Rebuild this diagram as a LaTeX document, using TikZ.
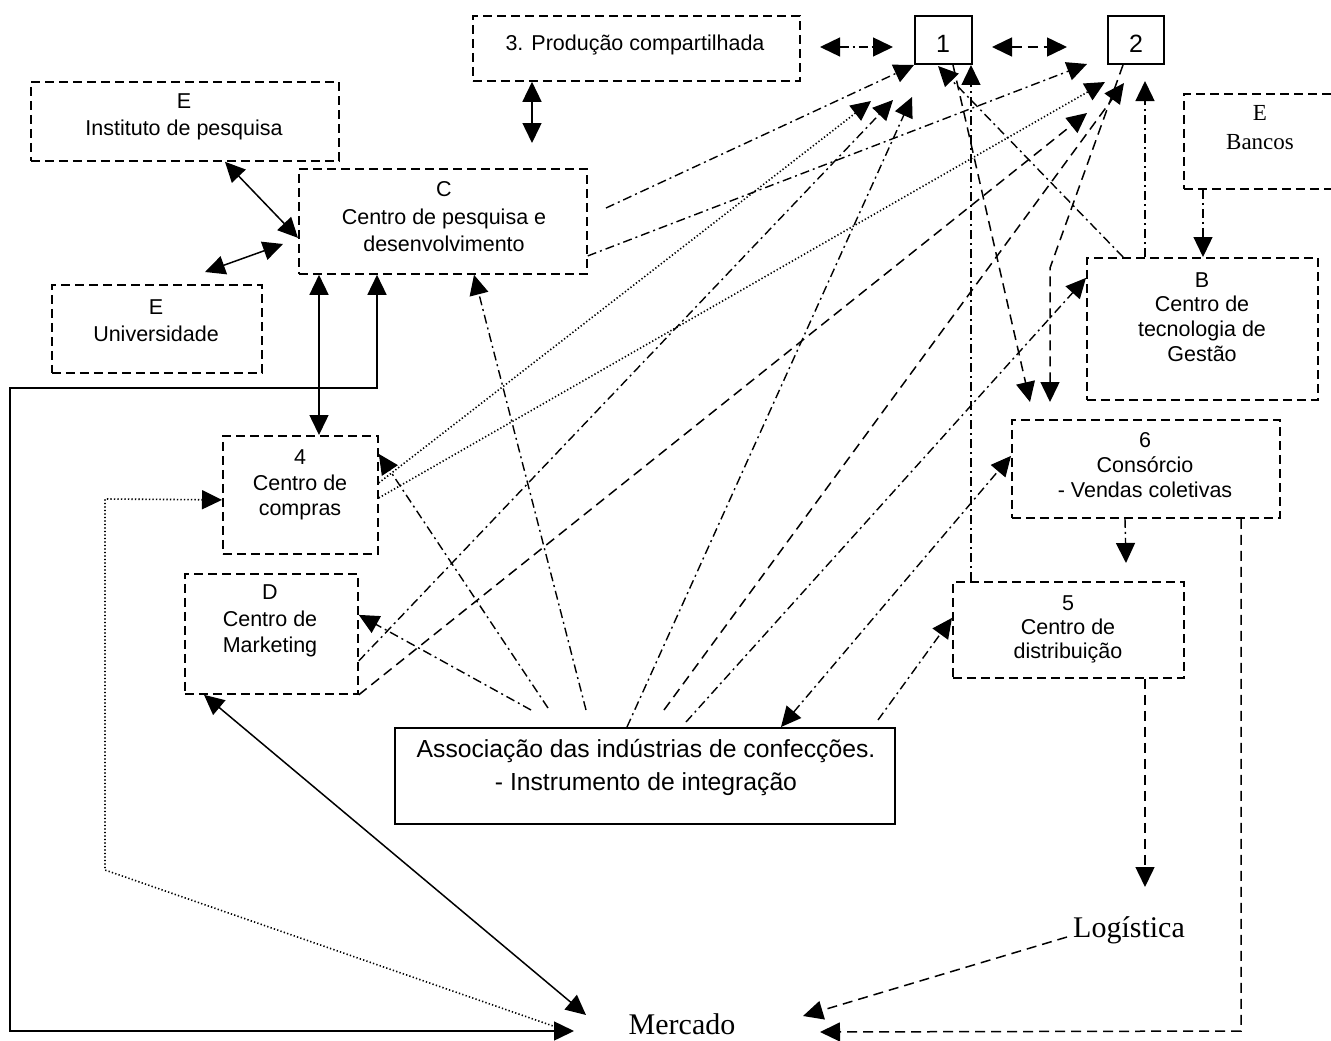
\documentclass[tikz,border=0pt]{standalone}
\usepackage{fontspec}
\setmainfont{Liberation Sans}
\newfontfamily\serifface{Liberation Serif}
\usetikzlibrary{arrows.meta}
\begin{document}
\begin{tikzpicture}[x=1pt,y=-1pt,
  dbox/.style={draw, line width=1.8pt, dash pattern=on 9pt off 5pt, inner sep=0pt, anchor=north west},
  sbox/.style={draw, line width=2pt, inner sep=0pt, anchor=north west},
  lbl/.style={align=center, inner sep=0pt, font=\fontsize{21.5}{#1}\selectfont},
  lbl/.default=27,
  albl/.style={align=center, inner sep=0pt, font=\fontsize{24.7}{33}\selectfont},
  num/.style={inner sep=0pt, font=\fontsize{25}{30}\selectfont},
  tlbl/.style={align=center, inner sep=0pt, font=\serifface\fontsize{23}{29}\selectfont},
  tbig/.style={inner sep=0pt, font=\serifface\fontsize{30}{36}\selectfont},
  sl/.style={line width=1.5pt},
  dsh/.style={line width=1.5pt, dash pattern=on 10pt off 6pt},
  dd/.style={line width=1.4pt, dash pattern=on 9pt off 4pt on 2pt off 4pt},
  dt/.style={line width=1.6pt, dash pattern=on 1.3pt off 2.2pt},
  hd/.style={-{Triangle[length=20pt,width=19pt]}},
  hd2/.style={{Triangle[length=20pt,width=19pt]}-{Triangle[length=20pt,width=19pt]}}
]
\useasboundingbox (0,0) rectangle (1331,1041);
\fill[white] (0,0) rectangle (1331,1041);

% ---------- boxes ----------
\node[dbox, minimum width=327pt, minimum height=65pt] (b3) at (472,15) {};
\node[sbox, minimum width=57pt, minimum height=48pt] (n1) at (914,15) {};
\node[sbox, minimum width=56pt, minimum height=48pt] (n2) at (1107,15) {};
\node[dbox, minimum width=180pt, minimum height=95pt] (bk) at (1183,93) {};
\node[dbox, minimum width=308pt, minimum height=79pt] (ip) at (30,81) {};
\node[dbox, minimum width=288pt, minimum height=105pt] (cp) at (298,168) {};
\node[dbox, minimum width=210pt, minimum height=88pt] (un) at (51,284) {};
\node[dbox, minimum width=231pt, minimum height=142pt] (bt) at (1086,257) {};
\node[dbox, minimum width=268pt, minimum height=98pt] (c6) at (1011,419) {};
\node[dbox, minimum width=231pt, minimum height=96pt] (c5) at (952,581) {};
\node[dbox, minimum width=155pt, minimum height=118pt] (c4) at (222,435) {};
\node[dbox, minimum width=173pt, minimum height=120pt] (dm) at (184,573) {};
\node[sbox, minimum width=500pt, minimum height=96pt] (as) at (394,727) {};

% ---------- texts ----------
\node[lbl] (b3t) at (635,45) {3. Produção compartilhada};
\node[num] (n1t) at (943,44) {1};
\node[num] (n2t) at (1136,44) {2};
\node[tlbl] (bkt) at (1260,127.5) {E\\Bancos};
\node[lbl] (ipt) at (184,117) {E\\Instituto de pesquisa};
\node[lbl=27.5] (cpt) at (444,217) {C\\Centro de pesquisa e\\desenvolvimento};
\node[lbl] (unt) at (156,321) {E\\Universidade};
\node[lbl=24.7] (btt) at (1202,317) {B\\Centro de\\tecnologia de\\Gestão};
\node[lbl=25] (c6t) at (1145,465) {6\\Consórcio\\- Vendas coletivas};
\node[lbl=24] (c5t) at (1068,629) {5\\Centro de\\distribuição};
\node[lbl=25.5] (c4t) at (300,485) {4\\Centro de\\compras};
\node[lbl=26.5] (dmt) at (270,621) {D\\Centro de\\Marketing};
\node[albl] (ast) at (646,768) {Associação das indústrias de confecções.\\- Instrumento de integração};
\node[tbig] (mk) at (682,1024) {Mercado};
\node[tbig] (lg) at (1129,930) {Logística};

% ---------- free ends and bends ----------
\coordinate (s1e) at (532,143);
\coordinate (u1) at (205,272);
\coordinate (u2) at (283,244);
\coordinate (k1) at (377,388);
\coordinate (k2) at (10,388);
\coordinate (k3) at (10,1031);
\coordinate (mkL) at (574,1031);
\coordinate (mkA) at (586,1015);
\coordinate (mkB) at (556,1027);
\coordinate (q1) at (105,870);
\coordinate (q2) at (105,499);
\coordinate (p1a) at (871,101);
\coordinate (p2a) at (1105,82);
\coordinate (cR) at (606,208);
\coordinate (p2b) at (1087,64);
\coordinate (p1b) at (893,100);
\coordinate (p1c) at (912,97);
\coordinate (e1) at (531,710);
\coordinate (e2) at (548,708);
\coordinate (e3) at (586,710);
\coordinate (e5) at (664,710);
\coordinate (e6) at (686,722);
\coordinate (e8) at (878,720);
\coordinate (p1d) at (938,66);
\coordinate (p1e) at (971,65);
\coordinate (p2c) at (1145,81);
\coordinate (c5a) at (1126,563);
\coordinate (b3r) at (820,47);
\coordinate (n1l) at (893,47);
\coordinate (n1r) at (992,47);
\coordinate (n2l) at (1067,47);
\coordinate (c6a) at (1030,402);
\coordinate (m1) at (1050,268);
\coordinate (c6b) at (1050,402);
\coordinate (p2d) at (1124,83);
\coordinate (p2e) at (1087,113);
\coordinate (lgA) at (1145,887);
\coordinate (lgB) at (1067,937);
\coordinate (mkR) at (803,1016);
\coordinate (m2) at (1241,1031);
\coordinate (mkS) at (820,1032);

% ---------- solid connectors ----------
\draw[sl, hd2] ([xshift=60pt]b3.south west) -- (s1e);
\draw[sl, hd2] ([xshift=195pt]ip.south west) -- ([yshift=-16.5pt]cp.west);
\draw[sl, hd2] (u1) -- (u2);
\draw[sl, hd2] ([xshift=21pt]cp.south west) -- ([xshift=97pt]c4.north west);
\draw[sl, hd2] ([xshift=79pt]cp.south west) -- (k1) -- (k2) -- (k3) -- (mkL);
\draw[sl, hd2] ([xshift=20pt]dm.south west) -- (mkA);

% ---------- dotted connectors ----------
\draw[dt, hd] (mkB) -- (q1) -- (q2) -- ([yshift=-5pt]c4.west);
\draw[dt, hd] ([yshift=12pt]c4.east) -- (p1a);
\draw[dt, hd] ([yshift=-3pt]c4.east) -- (p2a);

% ---------- dash-dot connectors ----------
\draw[dd, hd] (cR) -- (n1.south west);
\draw[dd, hd] ([yshift=-34.5pt]cp.east) -- (p2b);
\draw[dd, hd] ([yshift=-27pt]dm.east) -- (p1b);
\draw[dd, hd] ([xshift=233pt]as.north west) -- (p1c);
\draw[dd, hd] (e1) -- ([yshift=19pt]dm.east);
\draw[dd, hd] (e2) -- ([yshift=41pt]c4.east);
\draw[dd, hd] (e3) -- ([xshift=176pt]cp.south west);
\draw[dd, hd] (e6) -- ([yshift=51pt]bt.west);
\draw[dd, hd2] ([xshift=387pt]as.north west) -- ([yshift=13pt]c6.west);
\draw[dd, hd] (e8) -- ([yshift=12pt]c5.west);
\draw[dd, hd] ([xshift=37pt]bt.north west) -- (p1d);
\draw[dd, hd] ([xshift=19pt]c5.north west) -- (p1e);
\draw[dd, hd] ([xshift=59pt]bt.north west) -- (p2c);
\draw[dd, hd] ([xshift=20pt]bk.south west) -- ([xshift=117pt]bt.north west);
\draw[dd, hd] ([xshift=114pt]c6.south west) -- (c5a);
\draw[dd, hd2] (b3r) -- (n1l);

% ---------- dashed connectors ----------
\draw[dsh, hd2] (n1r) -- (n2l);
\draw[dsh, hd] ([xshift=39pt]n1.south west) -- (c6a);
\draw[dsh, hd] ([xshift=16pt]n2.south west) -- (m1) -- (c6b);
\draw[dsh, hd] (e5) -- (p2d);
\draw[dsh, hd] (dm.south east) -- (p2e);
\draw[dsh, hd] ([xshift=193pt]c5.south west) -- (lgA);
\draw[dsh, hd] (lgB) -- (mkR);
\draw[dsh, hd] ([xshift=230pt]c6.south west) -- (m2) -- (mkS);
\end{tikzpicture}
\end{document}
